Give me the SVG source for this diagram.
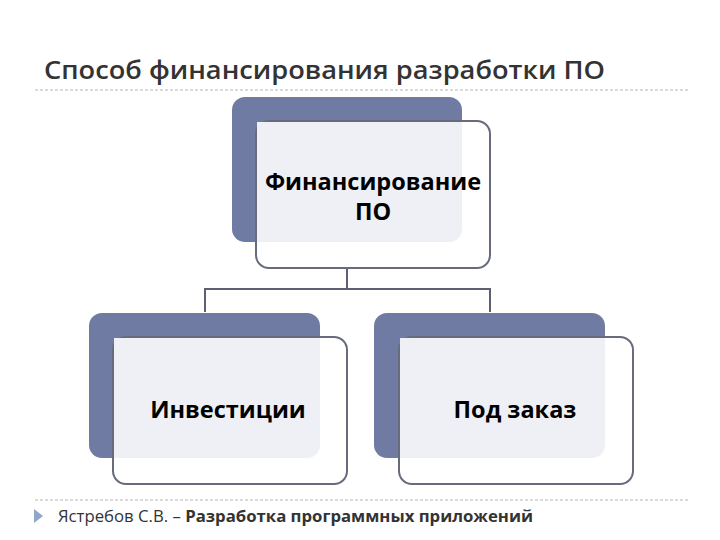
<svg xmlns="http://www.w3.org/2000/svg" width="720" height="540" viewBox="0 0 720 540">
<style>
.back{fill:#6f7ba2}
.front{fill:#ffffff;stroke:#676b7c;stroke-width:2}
.inner{fill:#eef0f5}
.lbl{font-family:"Open Sans","Liberation Sans",sans-serif;font-weight:bold;font-size:23.5px;fill:#000;text-anchor:middle}
.conn{fill:none;stroke:#5d6070;stroke-width:2}
.dash{stroke:#b5b5b5;stroke-width:1;stroke-dasharray:3,2}
</style>
<rect width="720" height="540" fill="#fff"/>
<text x="44" y="79" font-family="Open Sans, Liberation Sans, sans-serif" font-weight="600" font-size="25" fill="#333" textLength="561" lengthAdjust="spacingAndGlyphs">Способ финансирования разработки ПО</text>
<line class="dash" x1="35" y1="90" x2="690" y2="90"/>
<g id="connectors">
<path class="conn" d="M347 268 V289 M205 312 V289 H490 V312"/>
<line x1="347" y1="242" x2="347" y2="268" stroke="#c8cad4" stroke-width="2"/>
</g>
<g id="node-top">
<rect class="back" x="232" y="97" width="230" height="145" rx="13"/>
<rect class="front" x="256" y="121" width="234" height="147" rx="13"/>
<path class="inner" d="M257 122 H462 V229 A13 13 0 0 1 449 242 H257 Z"/>
<text class="lbl" x="373" y="190">Финансирование</text>
<text class="lbl" x="373" y="220">ПО</text>
</g>
<g id="node-left">
<rect class="back" x="89" y="313" width="231" height="145" rx="13"/>
<rect class="front" x="113" y="337" width="234" height="147" rx="13"/>
<path class="inner" d="M114 338 H320 V445 A13 13 0 0 1 307 458 H114 Z"/>
<text class="lbl" x="228" y="418">Инвестиции</text>
</g>
<g id="node-right">
<rect class="back" x="374" y="313" width="231" height="145" rx="13"/>
<rect class="front" x="399" y="337" width="234" height="147" rx="13"/>
<path class="inner" d="M400 338 H605 V445 A13 13 0 0 1 592 458 H400 Z"/>
<text class="lbl" x="515" y="418">Под заказ</text>
</g>
<line class="dash" x1="35" y1="500" x2="690" y2="500"/>
<polygon points="34,509 43,516 34,523" fill="#8fa7c8"/>
<text x="58" y="522" font-family="Open Sans, Liberation Sans, sans-serif" font-size="16" fill="#333" textLength="475" lengthAdjust="spacingAndGlyphs">Ястребов С.В. – <tspan font-weight="bold">Разработка программных приложений</tspan></text>
</svg>
